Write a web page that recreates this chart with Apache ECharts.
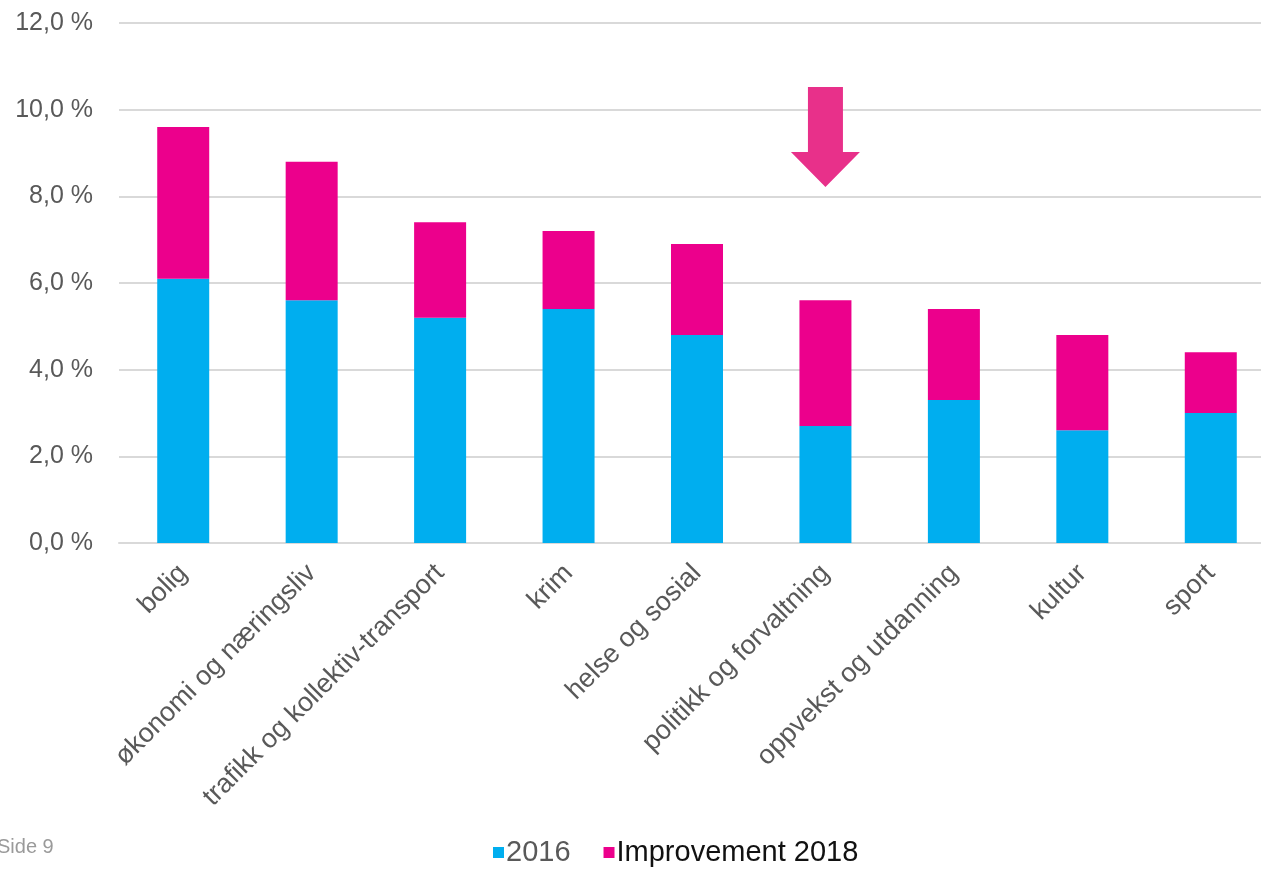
<!DOCTYPE html>
<html>
<head>
<meta charset="utf-8">
<script src="https://cdn.jsdelivr.net/npm/echarts@6/dist/echarts.min.js"></script>
<style>
html,body{margin:0;padding:0;background:#fff;}
#c{width:1261px;height:871px;}
</style>
</head>
<body>
<div id="c"></div>
<script>
const categories = ['bolig','økonomi og næringsliv','trafikk og kollektiv-transport','krim','helse og sosial','politikk og forvaltning','oppvekst og utdanning','kultur','sport'];
const values2016 = [6.1, 5.6, 5.2, 5.4, 4.8, 2.7, 3.3, 2.6, 3.0];
const improvement2018 = [3.5, 3.2, 2.2, 1.8, 2.1, 2.9, 2.1, 2.2, 1.4];
const seriesNames = ['2016', 'Improvement 2018'];
const yTicks = {min: 0, max: 12, interval: 2};

const chart = echarts.init(document.getElementById('c'), null, {renderer: 'canvas'});
const font = 'Liberation Sans, Arial, sans-serif';
const sideText = {type: 'text', left: -3, top: 837, z: 100, style: {text: 'Side 9', fontSize: 20, fill: '#9a9a9a', fontFamily: font}};
chart.setOption({
  animation: false,
  textStyle: {fontFamily: font},
  grid: {left: 119, width: 1156, top: 23, bottom: 328, containLabel: false, outerBoundsMode: 'none'},
  legend: {
    data: [
      {name: seriesNames[0], textStyle: {color: '#595959'}},
      {name: seriesNames[1], textStyle: {color: '#111111'}}
    ],
    left: 488, top: 833,
    itemWidth: 11, itemHeight: 11, itemGap: 33,
    icon: 'rect',
    textStyle: {fontSize: 29, fontFamily: font, padding: [0,0,0,-3]}
  },
  xAxis: {
    type: 'category',
    data: categories,
    axisTick: {show: false},
    axisLine: {show: true, lineStyle: {color: '#d9d9d9', width: 2}},
    axisLabel: {rotate: 45, margin: 26, fontSize: 27, color: '#595959', fontFamily: font, interval: 0}
  },
  yAxis: {
    type: 'value',
    min: yTicks.min, max: yTicks.max, interval: yTicks.interval,
    axisLine: {show: false}, axisTick: {show: false},
    splitLine: {lineStyle: {color: '#d9d9d9', width: 2}},
    axisLabel: {margin: 26, fontSize: 25, color: '#595959', fontFamily: font,
      formatter: v => v.toFixed(1).replace('.', ',') + ' %'}
  },
  series: [
    {name: seriesNames[0], type: 'bar', stack: 'a', data: values2016, barWidth: 52, itemStyle: {color: '#00AEEF'}},
    {name: seriesNames[1], type: 'bar', stack: 'a', data: improvement2018, barWidth: 52, itemStyle: {color: '#EC008C'}}
  ],
  graphic: [sideText]
});
const ax = chart.convertToPixel({xAxisIndex: 0}, 'politikk og forvaltning');
chart.setOption({
  graphic: [
    sideText,
    {type: 'polygon', z: 100, shape: {points: [
      [ax - 17.5, 87], [ax + 17.5, 87], [ax + 17.5, 152], [ax + 34.5, 152],
      [ax, 187], [ax - 34.5, 152], [ax - 17.5, 152]
    ]}, style: {fill: '#E8308A'}}
  ]
});
</script>
</body>
</html>
